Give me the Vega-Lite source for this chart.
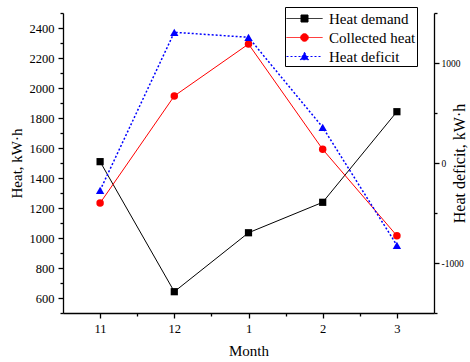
{
  "$schema": "https://vega.github.io/schema/vega-lite/v6.json",
  "width": 371,
  "height": 300,
  "autosize": {"type": "none"},
  "padding": {"left": 63, "top": 13, "right": 36, "bottom": 49},
  "background": "white",
  "config": {
    "view": {"stroke": null},
    "font": "Liberation Serif",
    "axis": {
      "labelFont": "Liberation Serif",
      "titleFont": "Liberation Serif",
      "labelFontSize": 12.5,
      "titleFontSize": 15,
      "titleFontWeight": "normal",
      "labelColor": "black",
      "titleColor": "black",
      "domainColor": "black",
      "tickColor": "black",
      "domainWidth": 1.3,
      "tickWidth": 1.3,
      "grid": false,
      "labelFlush": false,
      "labelOverlap": false
    }
  },
  "data": {
    "values": [
      {"i": 1, "m": "11", "s": "Heat demand", "v": 1509},
      {"i": 2, "m": "12", "s": "Heat demand", "v": 642},
      {"i": 3, "m": "1", "s": "Heat demand", "v": 1035},
      {"i": 4, "m": "2", "s": "Heat demand", "v": 1238},
      {"i": 5, "m": "3", "s": "Heat demand", "v": 1842},
      {"i": 1, "m": "11", "s": "Collected heat", "v": 1233},
      {"i": 2, "m": "12", "s": "Collected heat", "v": 1947},
      {"i": 3, "m": "1", "s": "Collected heat", "v": 2293},
      {"i": 4, "m": "2", "s": "Collected heat", "v": 1591},
      {"i": 5, "m": "3", "s": "Collected heat", "v": 1015},
      {"i": 1, "m": "11", "s": "Heat deficit", "v": -273},
      {"i": 2, "m": "12", "s": "Heat deficit", "v": 1307},
      {"i": 3, "m": "1", "s": "Heat deficit", "v": 1257},
      {"i": 4, "m": "2", "s": "Heat deficit", "v": 357},
      {"i": 5, "m": "3", "s": "Heat deficit", "v": -823}
    ]
  },
  "encoding": {
    "x": {
      "field": "i",
      "type": "quantitative",
      "scale": {"domain": [0.5, 5.5]},
      "axis": {
        "title": "Month",
        "values": [1, 1.5, 2, 2.5, 3, 3.5, 4, 4.5, 5],
        "labelExpr": "datum.value === 1 ? '11' : datum.value === 2 ? '12' : datum.value === 3 ? '1' : datum.value === 4 ? '2' : datum.value === 5 ? '3' : ''",
        "tickSize": {"condition": {"test": "datum.value % 1 === 0", "value": 5}, "value": 3},
        "labelPadding": 4,
        "titlePadding": 9
      }
    },
    "color": {
      "field": "s",
      "type": "nominal",
      "scale": {"domain": ["Heat demand", "Collected heat", "Heat deficit"], "range": ["black", "red", "blue"]},
      "legend": {
        "orient": "none",
        "legendX": 222,
        "legendY": -6,
        "title": null,
        "strokeColor": "black",
        "fillColor": "white",
        "padding": 1,
        "rowPadding": 0,
        "labelFont": "Liberation Serif",
        "labelFontSize": 15,
        "labelColor": "black",
        "symbolSize": 400,
        "symbolType": "square",
        "labelOffset": 14,
        "symbolOffset": 8,
        "encode": {
          "symbols": {
            "update": {
              "shape": {"signal": "datum.value === 'Heat demand' ? 'M-1.8,0H1.8M-0.35,-0.35H0.35V0.35H-0.35Z' : datum.value === 'Collected heat' ? 'M-1.8,0H1.8M0.38,0A0.38,0.38,0,1,1,-0.38,0A0.38,0.38,0,1,1,0.38,0Z' : 'M-1.8,0H1.8M0,-0.42L0.42,0.32H-0.42Z'"},
              "fill": {"signal": "datum.value === 'Heat demand' ? 'black' : datum.value === 'Collected heat' ? 'red' : 'blue'"},
              "stroke": {"signal": "datum.value === 'Heat demand' ? 'black' : datum.value === 'Collected heat' ? 'red' : 'blue'"},
              "strokeDash": {"signal": "datum.value === 'Heat deficit' ? [2, 2] : [1, 0]"},
              "strokeWidth": {"value": 1},
              "opacity": {"value": 1}
            }
          }
        }
      }
    }
  },
  "layer": [
    {
      "transform": [{"filter": "datum.s !== 'Heat deficit'"}],
      "encoding": {
        "y": {
          "field": "v",
          "type": "quantitative",
          "scale": {"domain": [500, 2500]},
          "axis": {
            "orient": "left",
            "title": "Heat, kW·h",
            "values": [500, 600, 700, 800, 900, 1000, 1100, 1200, 1300, 1400, 1500, 1600, 1700, 1800, 1900, 2000, 2100, 2200, 2300, 2400, 2500],
            "labelExpr": "datum.value % 200 === 0 ? '' + datum.value : ''",
            "tickSize": {"condition": {"test": "datum.value % 200 === 0", "value": 5}, "value": 3},
            "labelPadding": 4,
            "titlePadding": 5
          }
        }
      },
      "layer": [
        {
          "mark": {"type": "line", "strokeWidth": 1},
          "encoding": {
            "order": {"field": "i"}
          }
        },
        {
          "transform": [{"filter": "datum.s === 'Heat demand'"}],
          "mark": {"type": "point", "filled": true, "opacity": 1, "size": 52, "shape": "square"}
        },
        {
          "transform": [{"filter": "datum.s === 'Collected heat'"}],
          "mark": {"type": "point", "filled": true, "opacity": 1, "size": 56, "shape": "circle"}
        }
      ]
    },
    {
      "transform": [{"filter": "datum.s === 'Heat deficit'"}],
      "encoding": {
        "y": {
          "field": "v",
          "type": "quantitative",
          "scale": {"domain": [-1500, 1500]},
          "axis": {
            "orient": "right",
            "title": "Heat deficit, kW·h",
            "titleAngle": 270,
            "titleFontSize": 16,
            "labelFontSize": 9.5,
            "values": [-1500, -1000, -500, 0, 500, 1000, 1500],
            "labelExpr": "datum.value % 1000 === 0 ? '' + datum.value : ''",
            "tickSize": {"condition": {"test": "datum.value % 1000 === 0", "value": 5}, "value": 3},
            "labelPadding": 2,
            "titlePadding": 4
          }
        }
      },
      "layer": [
        {
          "mark": {"type": "line", "strokeWidth": 1.5, "strokeDash": [2, 2]},
          "encoding": {
            "order": {"field": "i"}
          }
        },
        {
          "mark": {"type": "point", "filled": true, "opacity": 1, "size": 70, "shape": "triangle-up"}
        }
      ]
    }
  ],
  "resolve": {"scale": {"y": "independent"}}
}
